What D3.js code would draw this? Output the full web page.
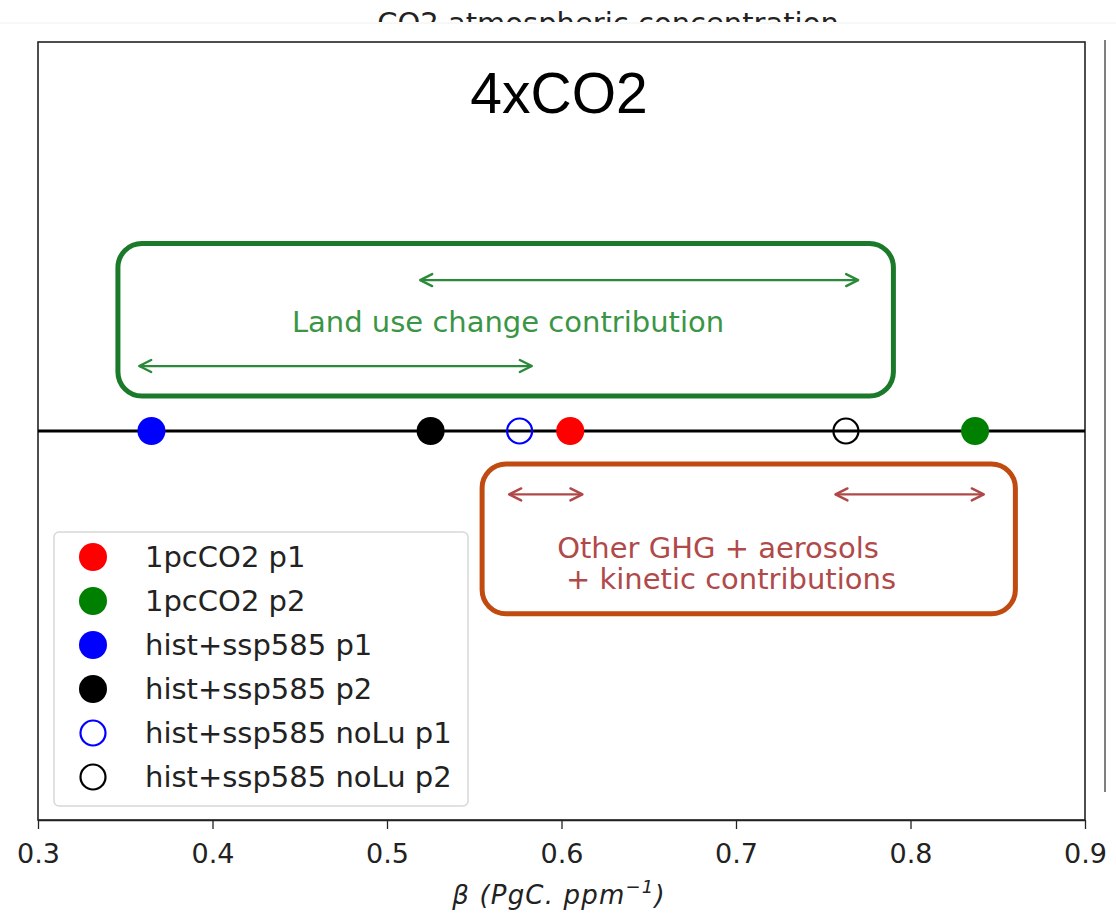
<!DOCTYPE html>
<html><head><meta charset="utf-8">
<script src="https://cdn.jsdelivr.net/npm/d3@7"></script>
<style>body{margin:0;background:#fff;} svg{display:block;font-family:"DejaVu Sans",sans-serif;}</style>
</head><body>
<script>
const seriesNames = ["1pcCO2 p1","1pcCO2 p2","hist+ssp585 p1","hist+ssp585 p2","hist+ssp585 noLu p1","hist+ssp585 noLu p2"];
const betaValues = [0.605, 0.837, 0.365, 0.525, 0.576, 0.763];
const seriesColors = ["#ff0000","#008000","#0000ff","#000000","#0000ff","#000000"];
const seriesFilled = [true,true,true,true,false,false];
const xTicks = [0.3,0.4,0.5,0.6,0.7,0.8,0.9];
const lucArrows = [[0.519,0.770],[0.358,0.583]];
const otherArrows = [[0.570,0.612],[0.757,0.842]];

const W=1116,H=920;
const svg=d3.select("body").append("svg").attr("width",W).attr("height",H);
const L=38,R=1085,T=42,B=820;
const x=d3.scaleLinear().domain([0.3,0.9]).range([L,R]);
const y=d3.scaleLinear().domain([-1,1]).range([B,T]);

// clipped top title
svg.append("clipPath").attr("id","topclip").append("rect").attr("x",0).attr("y",0).attr("width",W).attr("height",22);
svg.append("text").attr("clip-path","url(#topclip)").attr("x",608).attr("y",33).attr("text-anchor","middle")
  .attr("font-size",29).attr("fill","#222").text("CO2 atmospheric concentration");
svg.append("line").attr("x1",0).attr("x2",W).attr("y1",23).attr("y2",23).attr("stroke","#f0f0f0").attr("stroke-width",1);

// right grey line
svg.append("line").attr("x1",1105).attr("x2",1105).attr("y1",40).attr("y2",792).attr("stroke","#555").attr("stroke-width",1.5);

// frame
svg.append("rect").attr("x",L).attr("y",T).attr("width",R-L).attr("height",B-T).attr("fill","none").attr("stroke","#222").attr("stroke-width",1.6);

// axis
const ax=svg.append("g").attr("transform",`translate(0,${B})`).call(d3.axisBottom(x).tickValues(xTicks).tickFormat(d3.format(".1f")).tickSize(9).tickSizeOuter(0));
ax.select(".domain").attr("stroke","#222").attr("stroke-width",1.6);
ax.selectAll(".tick line").attr("stroke","#222").attr("stroke-width",1.3);
ax.selectAll(".tick text").attr("font-size",27).attr("fill","#222").attr("y",43).attr("dy",0).attr("font-family","DejaVu Sans");

// x label
const xl=svg.append("text").attr("x",559).attr("y",904).attr("text-anchor","middle").attr("font-size",26).attr("fill","#222").attr("font-style","italic").attr("letter-spacing",1.2);
xl.append("tspan").text("β (PgC. ppm");
xl.append("tspan").attr("dy",-11).attr("font-size",18).text("−1");
xl.append("tspan").attr("dy",11).text(")");

// title
svg.append("text").attr("x",559).attr("y",113).attr("text-anchor","middle").attr("font-size",57).attr("font-family","Liberation Sans, Arial, sans-serif").attr("fill","#000").text("4xCO2");

// zero line
svg.append("line").attr("x1",L).attr("x2",R).attr("y1",y(0)).attr("y2",y(0)).attr("stroke","#000").attr("stroke-width",3);

function arrow(x1,x2,yy,col){
  svg.append("line").attr("x1",x1).attr("x2",x2).attr("y1",yy).attr("y2",yy).attr("stroke",col).attr("stroke-width",2.2);
  [[x1,1],[x2,-1]].forEach(([px,s])=>{
    svg.append("path").attr("d",`M${px+s*12},${yy-6} L${px},${yy} L${px+s*12},${yy+6}`).attr("fill","none").attr("stroke",col).attr("stroke-width",2.4).attr("stroke-linejoin","round").attr("stroke-linecap","round");
  });
}

// green box
const gcol="#1b7a2a";
svg.append("rect").attr("x",x(0.3458)).attr("y",y(0.482)).attr("width",x(0.7902)-x(0.3458)).attr("height",y(0.09)-y(0.482))
  .attr("rx",24).attr("fill","none").attr("stroke",gcol).attr("stroke-width",5);
arrow(x(lucArrows[0][0]),x(lucArrows[0][1]),y(0.388),"#2b8a3a");
arrow(x(lucArrows[1][0]),x(lucArrows[1][1]),y(0.167),"#2b8a3a");
svg.append("text").attr("x",508).attr("y",332).attr("text-anchor","middle").attr("font-size",29).attr("fill","#3a9645").text("Land use change contribution");

// orange box
const ocol="#c04a10";
svg.append("rect").attr("x",x(0.5545)).attr("y",y(-0.085)).attr("width",x(0.8601)-x(0.5545)).attr("height",y(-0.47)-y(-0.085))
  .attr("rx",24).attr("fill","none").attr("stroke",ocol).attr("stroke-width",5);
arrow(x(otherArrows[0][0]),x(otherArrows[0][1]),y(-0.163),"#b04848");
arrow(x(otherArrows[1][0]),x(otherArrows[1][1]),y(-0.163),"#b04848");
svg.append("text").attr("x",718).attr("y",558).attr("text-anchor","middle").attr("font-size",29).attr("fill","#b04a4a").text("Other GHG + aerosols");
svg.append("text").attr("x",731).attr("y",589).attr("text-anchor","middle").attr("font-size",29).attr("fill","#b04a4a").text("+ kinetic contributions");

// points
svg.selectAll("circle.pt").data(betaValues.map((v,i)=>({v,i}))).enter().append("circle").attr("class","pt")
  .attr("cx",d=>x(d.v)).attr("cy",y(0)).attr("r",d=>seriesFilled[d.i]?14:12.5)
  .attr("fill",d=>seriesFilled[d.i]?seriesColors[d.i]:"none")
  .attr("stroke",d=>seriesFilled[d.i]?"none":seriesColors[d.i]).attr("stroke-width",2.2);

// legend
const lg=svg.append("g");
lg.append("rect").attr("x",54).attr("y",532).attr("width",414).attr("height",274).attr("rx",5).attr("fill","#fff").attr("stroke","#d8d8d8").attr("stroke-width",1.5);
seriesNames.forEach((n,i)=>{
  const yy=557+i*44;
  lg.append("circle").attr("cx",93).attr("cy",yy).attr("r",seriesFilled[i]?14:12.5)
    .attr("fill",seriesFilled[i]?seriesColors[i]:"none").attr("stroke",seriesFilled[i]?"none":seriesColors[i]).attr("stroke-width",2.2);
  lg.append("text").attr("x",145).attr("y",yy+10).attr("font-size",29).attr("fill","#222").text(n);
});
</script>
</body></html>
